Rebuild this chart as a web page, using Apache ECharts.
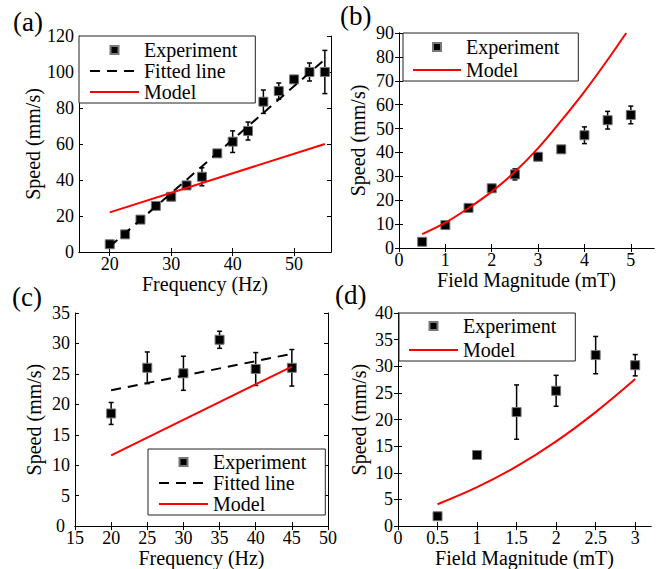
<!DOCTYPE html>
<html><head><meta charset="utf-8">
<script src="https://cdn.jsdelivr.net/npm/echarts@6/dist/echarts.min.js"></script>
<style>html,body{margin:0;padding:0;background:#fff}#c{width:656px;height:569px}</style>
</head><body><div id="c"></div>
<script>
// ---- Panel (a): speed vs frequency ----
const aFreq  = [20, 22.5, 25, 27.5, 30, 32.5, 35, 37.5, 40, 42.5, 45, 47.5, 50, 52.5, 55];
const aSpeed = [4.3, 9.8, 18, 25.6, 30.7, 37, 41.8, 54.8, 61.3, 67.2, 83.5, 89.4, 95.9, 100, 100];
const aErr   = [0.8, 1, 1, 1, 2, 2, 5, 0.5, 6, 5, 6.5, 4.5, 0.5, 5, 12];
const aFitX  = [20, 55];
const aFitY  = [3, 107];
const aModX  = [20, 55];
const aModY  = [22, 60];
const aXTicks = [20, 30, 40, 50];

// ---- Panel (b): speed vs field magnitude ----
const bField = [0.5, 1, 1.5, 2, 2.5, 3, 3.5, 4, 4.5, 5];
const bSpeed = [2.6, 9.6, 16.8, 25.0, 30.8, 38.2, 41.3, 47.2, 53.5, 55.7];
const bErr   = [0.5, 1, 1, 1.5, 2.3, 1.5, 0.8, 3.5, 3.7, 3.7];
const bModX  = [0.5, 1, 1.5, 2, 2.5, 3, 3.5, 4, 4.5, 4.9];
const bModY  = [5.8, 10.6, 16.7, 23.6, 31.9, 41.8, 53.3, 65.5, 78.8, 90];
const bXTicks = [0, 1, 2, 3, 4, 5];

// ---- Panel (c): speed vs frequency ----
const cFreq  = [20, 25, 30, 35, 40, 45];
const cSpeed = [18.5, 26, 25.1, 30.6, 25.8, 26];
const cErr   = [1.8, 2.6, 2.8, 1.4, 2.7, 3];
const cFitX  = [20, 45];
const cFitY  = [22.3, 28.3];
const cModX  = [20, 45];
const cModY  = [11.6, 26.2];
const cXTicks = [15, 20, 25, 30, 35, 40, 45, 50];

// ---- Panel (d): speed vs field magnitude ----
const dField = [0.5, 1, 1.5, 2, 2.5, 3];
const dSpeed = [1.85, 13.35, 21.4, 25.4, 32.1, 30.2];
const dErr   = [0.3, 0.3, 5.1, 2.9, 3.5, 2];
const dModX  = [0.5, 1, 1.5, 2, 2.5, 3];
const dModY  = [4.1, 7.3, 11.2, 15.9, 21.4, 27.6];
const dXTicks = [0, 0.5, 1, 1.5, 2, 2.5, 3];

const FONT = "'Liberation Serif', 'Times New Roman', serif";
const SQ = 'path://M0 0H10V10H0Z';

const grids = [
  {left: 79,  top: 36,  width: 252, height: 216},
  {left: 399, top: 33,  width: 255, height: 215},
  {left: 75,  top: 313, width: 253, height: 216},
  {left: 398, top: 313, width: 253, height: 216}
];

const xAxes = [], yAxes = [];
function addAxes(gi, xmin, xmax, xticks, xname, xgap, ymin, ymax, yint, ygap, padZero) {
  const lineS = {show: true, lineStyle: {color: '#000', width: 1}};
  const tickS = {show: true, inside: true, length: 4, lineStyle: {color: '#000', width: 1}, customValues: xticks};
  const labX = {color: '#000', fontFamily: FONT, fontSize: 18, lineHeight: 14, margin: 5, customValues: xticks};
  const labY = {color: '#000', fontFamily: FONT, fontSize: 18, lineHeight: 14, margin: 5};
  if (padZero) {
    labY.formatter = v => (v === 0 ? '{p|0}' : String(v));
    labY.rich = {p: {color: '#000', fontFamily: FONT, fontSize: 18, lineHeight: 14, padding: [0, 5, 0, 0]}};
  }
  xAxes.push({type: 'value', gridIndex: gi, position: 'bottom', min: xmin, max: xmax,
    axisLine: lineS, axisTick: tickS, splitLine: {show: false},
    axisLabel: labX,
    name: xname, nameLocation: 'middle', nameGap: xgap,
    nameTextStyle: {color: '#000', fontFamily: FONT, fontSize: 20}});
  xAxes.push({type: 'value', gridIndex: gi, position: 'top', min: xmin, max: xmax,
    axisLine: lineS, axisTick: tickS, splitLine: {show: false}, axisLabel: {show: false}});
  const ytick = {show: true, inside: true, length: 4, lineStyle: {color: '#000', width: 1}};
  yAxes.push({type: 'value', gridIndex: gi, position: 'left', min: ymin, max: ymax, interval: yint,
    axisLine: lineS, axisTick: ytick, splitLine: {show: false},
    axisLabel: labY,
    name: 'Speed (mm/s)', nameLocation: 'middle', nameGap: ygap,
    nameTextStyle: {color: '#000', fontFamily: FONT, fontSize: 20}});
  yAxes.push({type: 'value', gridIndex: gi, position: 'right', min: ymin, max: ymax, interval: yint,
    axisLine: lineS, axisTick: ytick, splitLine: {show: false}, axisLabel: {show: false}});
}
addAxes(0, 15, 56, aXTicks, 'Frequency (Hz)', 20, 0, 120, 20, 35, false);
addAxes(1, 0, 5.5, bXTicks, 'Field Magnitude (mT)', 22, 0, 90, 10, 31, false);
addAxes(2, 15, 50, cXTicks, 'Frequency (Hz)', 20, 0, 35, 5, 31, true);
addAxes(3, 0, 3.2, dXTicks, 'Field Magnitude (mT)', 18, 0, 40, 5, 29, false);

function zip(a, b, c) { return a.map((v, i) => c ? [v, b[i], c[i]] : [v, b[i]]); }

function errRender(params, api) {
  const x = api.value(0), y = api.value(1), e = api.value(2);
  const t = api.coord([x, y + e]);
  const b = api.coord([x, y - e]);
  const w = 2.5;
  const st = {stroke: '#000', lineWidth: 1.5};
  return {type: 'group', children: [
    {type: 'line', shape: {x1: t[0], y1: t[1], x2: b[0], y2: b[1]}, style: st},
    {type: 'line', shape: {x1: t[0] - w, y1: t[1], x2: t[0] + w, y2: t[1]}, style: st},
    {type: 'line', shape: {x1: b[0] - w, y1: b[1], x2: b[0] + w, y2: b[1]}, style: st}
  ]};
}

const NOFILL = {color: 'rgba(0,0,0,0)', borderWidth: 0, borderColor: 'rgba(0,0,0,0)'};
const series = [];
function addPanel(gi, ex, ey, ee, fitx, fity, modx, mody, smoothModel) {
  const ax = {xAxisIndex: gi * 2, yAxisIndex: gi * 2};
  series.push(Object.assign({type: 'custom', name: 'err' + gi, renderItem: errRender,
    data: zip(ex, ey, ee), encode: {x: 0, y: 1}, z: 2, silent: true}, ax));
  series.push(Object.assign({type: 'scatter', name: 'Experiment', symbol: 'rect', symbolSize: 9,
    itemStyle: {color: '#000', borderColor: '#777', borderWidth: 1, opacity: 1},
    data: zip(ex, ey), z: 3}, ax));
  if (fitx) {
    series.push(Object.assign({type: 'line', name: 'Fitted line', symbol: 'none', showSymbol: false,
      lineStyle: {color: '#000', width: 2, type: [10, 7]}, itemStyle: NOFILL,
      data: zip(fitx, fity), z: 4}, ax));
  }
  series.push(Object.assign({type: 'line', name: 'Model', symbol: 'none', showSymbol: false,
    smooth: smoothModel ? 0.4 : false,
    lineStyle: {color: '#ff0000', width: 2}, itemStyle: NOFILL,
    data: zip(modx, mody), z: 5}, ax));
}
addPanel(0, aFreq, aSpeed, aErr, aFitX, aFitY, aModX, aModY, false);
addPanel(1, bField, bSpeed, bErr, null, null, bModX, bModY, true);
addPanel(2, cFreq, cSpeed, cErr, cFitX, cFitY, cModX, cModY, false);
addPanel(3, dField, dSpeed, dErr, null, null, dModX, dModY, true);

function mkLegend(left, top, itemWidth, itemGap, padding, names) {
  return {left: left, top: top, orient: 'vertical', itemWidth: itemWidth, itemHeight: 8,
    itemGap: itemGap, padding: padding, backgroundColor: '#fff', borderColor: '#222',
    borderWidth: 1, borderRadius: 0, selectedMode: false,
    textStyle: {fontFamily: FONT, fontSize: 20, color: '#000', lineHeight: 20},
    data: names.map(n => n === 'Experiment' ? {name: n, icon: SQ} : {name: n})};
}

const panelTitle = (t, l, tp) => ({text: t, left: l, top: tp, padding: 0,
  textStyle: {fontFamily: FONT, fontSize: 27, fontWeight: 'normal', color: '#000'}});

const option = {
  animation: false,
  backgroundColor: '#fff',
  textStyle: {fontFamily: FONT},
  title: [panelTitle('(a)', 13, 8), panelTitle('(b)', 340, 2), panelTitle('(c)', 12, 283), panelTitle('(d)', 335, 281)],
  grid: grids,
  xAxis: xAxes,
  yAxis: yAxes,
  legend: [
    mkLegend(79, 36, 49, 1, [4, 18, 1, 10], ['Experiment', 'Fitted line', 'Model']),
    mkLegend(403, 33, 48, 3, [4, 19, 1, 9], ['Experiment', 'Model']),
    mkLegend(148, 449, 49, 1, [3, 19, 1, 10], ['Experiment', 'Fitted line', 'Model']),
    mkLegend(399, 313, 49, 4, [3, 19, 1, 9], ['Experiment', 'Model'])
  ],
  series: series
};
const chart = echarts.init(document.getElementById('c'), null, {renderer: 'svg'});
chart.setOption(option);
</script></body></html>
